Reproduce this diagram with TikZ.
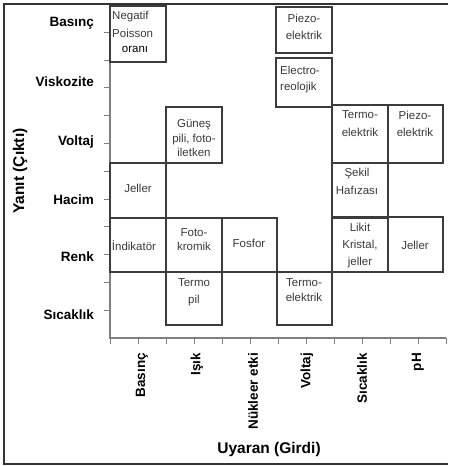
\documentclass[tikz,border=0pt]{standalone}
\usepackage{fontspec}
\setmainfont{Liberation Sans}
\usetikzlibrary{fit}
\definecolor{boxc}{HTML}{3C3C3C}
\definecolor{axc}{HTML}{808080}
\definecolor{txtc}{HTML}{3A3A3A}
\definecolor{framec}{HTML}{333333}
\begin{document}
\begin{tikzpicture}[x=1pt,y=-1pt,
  cellbox/.style={draw=boxc, line width=1.1pt, inner sep=0pt},
  celltxt/.style={text=txtc, inner sep=0pt, align=center, font=\fontsize{11.5}{16.5}\selectfont},
  lsk/.style={font=\fontsize{11.5}{#1}\selectfont},
  ylab/.style={font=\fontsize{13.5}{16}\selectfont\bfseries, anchor=east, inner sep=0pt},
  xlab/.style={font=\fontsize{13.5}{16}\selectfont\bfseries, rotate=90, anchor=east, inner sep=0pt},
  ttl/.style={font=\fontsize{15.5}{18}\selectfont\bfseries, inner sep=0pt},
  axline/.style={draw=axc, line width=1.1pt},
  tick/.style={draw=axc, line width=1pt}]
\useasboundingbox (0,0) rectangle (448,466);
% frame
\draw[framec, line width=1.5pt] (448,4) -- (4,4) -- (4,464) -- (448,464);
% axes
\coordinate (ytop) at (110,6);
\coordinate (orig) at (110,338);
\coordinate (xend) at (446,338);
\draw[axline] (ytop) -- (orig) -- (xend);
\foreach \k in {1,...,11} \draw[tick] (110,338-27.8*\k) -- ++(-6,0);
\foreach \k in {0,...,12} \draw[tick] (110+28*\k,338) -- ++(0,6);
% y labels
\node[ylab] (yb) at (94,23) {Basınç};
\node[ylab] (yv) at (94,82) {Viskozite};
\node[ylab] (yvo) at (94,142) {Voltaj};
\node[ylab] (yh) at (94,200) {Hacim};
\node[ylab] (yr) at (94,257) {Renk};
\node[ylab] (ys) at (94,315) {Sıcaklık};
% x labels
\node[xlab] (xb) at (142,353) {Basınç};
\node[xlab] (xi) at (197,353) {Işık};
\node[xlab] (xn) at (253,353) {Nükleer etki};
\node[xlab] (xv) at (307,353) {Voltaj};
\node[xlab] (xs) at (362,353) {Sıcaklık};
\node[xlab] (xp) at (418,353) {pH};
% titles
\node[ttl] (xt) at (269,449) {Uyaran (Girdi)};
\node[ttl, rotate=90] (yt) at (20,171) {Yanıt (Çıktı)};
% boxes
\node[cellbox, fit={(110,6) (166,62)}] (b1) {};
\node[cellbox, fit={(166,107) (222,163)}] (b2) {};
\node[cellbox, fit={(110,163) (166,218)}] (b3) {};
\node[cellbox, fit={(110,218) (166,272)}] (b4) {};
\node[cellbox, fit={(166,218) (222,272)}] (b5) {};
\node[cellbox, fit={(222,218) (277,272)}] (b6) {};
\node[cellbox, fit={(166,272) (222,325)}] (b7) {};
\node[cellbox, fit={(277,272) (332,325)}] (b8) {};
\node[cellbox, fit={(276,7) (332,53)}] (b9) {};
\node[cellbox, fit={(276,58) (332,107)}] (b10) {};
\node[cellbox, fit={(332,105) (388,163)}] (b11) {};
\node[cellbox, fit={(388,105) (443,163)}] (b12) {};
\node[cellbox, fit={(332,163) (388,218)}] (b13) {};
\node[cellbox, fit={(332,217) (388,272)}] (b14) {};
\node[cellbox, fit={(388,217) (443,272)}] (b15) {};
% texts
\node[celltxt, lsk=18, align=left, anchor=north west] (t1) at (112,10.5) {Negatif\\Poisson};
\node[celltxt, text=black, anchor=north] (t1b) at (135,46.5) {oranı};
\node[celltxt, lsk=14.5, anchor=north] (t2) at (194,119.5) {Güneş\\pili, foto-\\iletken};
\node[celltxt] (t3) at (138,188) {Jeller};
\node[celltxt] (t4) at (134,246) {İndikatör};
\node[celltxt, lsk=14, anchor=north] (t5) at (194,228.5) {Foto-\\kromik};
\node[celltxt] (t6) at (249,243) {Fosfor};
\node[celltxt, lsk=17, anchor=north] (t7) at (194,278.5) {Termo\\pil};
\node[celltxt, lsk=15, anchor=north] (t8) at (304,278.5) {Termo-\\elektrik};
\node[celltxt, lsk=17, anchor=north] (t9) at (304,13.5) {Piezo-\\elektrik};
\node[celltxt, lsk=16, align=left, anchor=north west] (t10) at (280,65.5) {Electro-\\reolojik};
\node[celltxt, lsk=17.5, anchor=north] (t11) at (360,110.5) {Termo-\\elektrik};
\node[celltxt, lsk=17.5, anchor=north] (t12) at (415,110.5) {Piezo-\\elektrik};
\node[celltxt, lsk=18, anchor=north] (t13) at (357,167.5) {Şekil\\Hafızası};
\node[celltxt, lsk=17, anchor=north] (t14) at (360,222.5) {Likit\\Kristal,\\jeller};
\node[celltxt] (t15) at (415,245) {Jeller};
\end{tikzpicture}
\end{document}
